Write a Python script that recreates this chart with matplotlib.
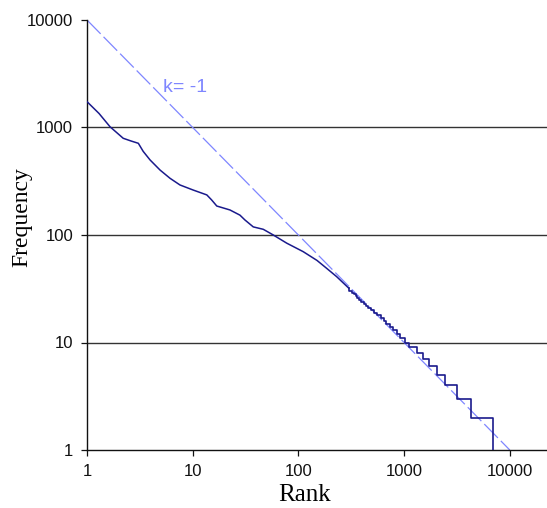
import matplotlib
matplotlib.use("Agg")
import matplotlib.pyplot as plt

# smooth upper part of the rank/frequency curve
smooth_rank = [1, 1.3, 1.65, 2.2, 2.6, 3.06, 3.4, 3.95, 4.91, 6.1, 7.58, 10.1, 13.6, 15.1,
               16.9, 22.5, 28, 31.2, 37.4, 46.5, 57.9, 77.5, 111, 150, 185, 230, 300]
smooth_freq = [1740, 1350, 1017, 794, 750, 713, 600, 499, 402, 337, 292, 262, 236, 212,
               186, 171, 153, 138, 119, 113, 100, 84, 70, 58, 49, 41, 32]

# staircase tail: rank at which each integer frequency level ends
step_rank = [300, 320, 335, 350, 362, 378, 395, 415, 435, 460, 490, 520, 555, 600, 640,
             680, 730, 790, 850, 920, 1010, 1120, 1315, 1520, 1733, 2033, 2438, 3146,
             4266, 6985, 6985]
step_freq = [32, 30, 29, 28, 27, 26, 25, 24, 23, 22, 21, 20, 19, 18, 17,
             16, 15, 14, 13, 12, 11, 10, 9, 8, 7, 6, 5, 4,
             3, 2, 1]

# reference line k = -1
ref_rank = [1, 10000]
ref_freq = [10000, 1]

x_ticks = [1, 10, 100, 1000, 10000]
y_ticks = [1, 10, 100, 1000, 10000]
grid_levels = [10, 100, 1000]

plt.rcParams['lines.scale_dashes'] = False
plt.rcParams['font.family'] = ['Liberation Sans', 'DejaVu Sans']

fig = plt.figure(figsize=(5.47, 5.08), dpi=100)
ax = fig.add_axes([87 / 547, 1 - 450 / 508, 460 / 547, 430 / 508])
ax.set_xscale('log')
ax.set_yscale('log')
ax.set_xlim(1, 22500)
ax.set_ylim(1, 10000)

for g in grid_levels:
    ax.axhline(g, color='#333333', lw=1.0, zorder=1)

ax.plot(ref_rank, ref_freq, color='#7f86ff', lw=0.9, dashes=(14, 3), zorder=2)
ax.plot(smooth_rank, smooth_freq, color='#1a1a8c', lw=1.1, zorder=3)
ax.step(step_rank, step_freq, where='pre', color='#1a1a8c', lw=1.2, zorder=3)

ax.text(5.24, 2380, 'k= -1', color='#7f86ff', fontsize=14, ha='left', va='center')

for s in ['top', 'right']:
    ax.spines[s].set_visible(False)
for s in ['left', 'bottom']:
    ax.spines[s].set_color('#111111')
    ax.spines[s].set_linewidth(1.0)

ax.set_xticks(x_ticks)
ax.set_xticklabels([str(v) for v in x_ticks])
ax.set_yticks(y_ticks)
ax.set_yticklabels([str(v) for v in y_ticks])
ax.minorticks_off()
ax.tick_params(axis='both', direction='out', length=4.0, width=0.9, pad=6,
               labelsize=12, colors='#111111')

fig.text(305 / 547, 1 - 501 / 508, 'Rank', family='Liberation Serif', fontsize=18,
         ha='center', va='baseline')
fig.text(22 / 547, 1 - 217 / 508, 'Frequency', family='Liberation Serif', fontsize=17,
         ha='center', va='center', rotation=90)

fig.savefig('out.png', dpi=100)
